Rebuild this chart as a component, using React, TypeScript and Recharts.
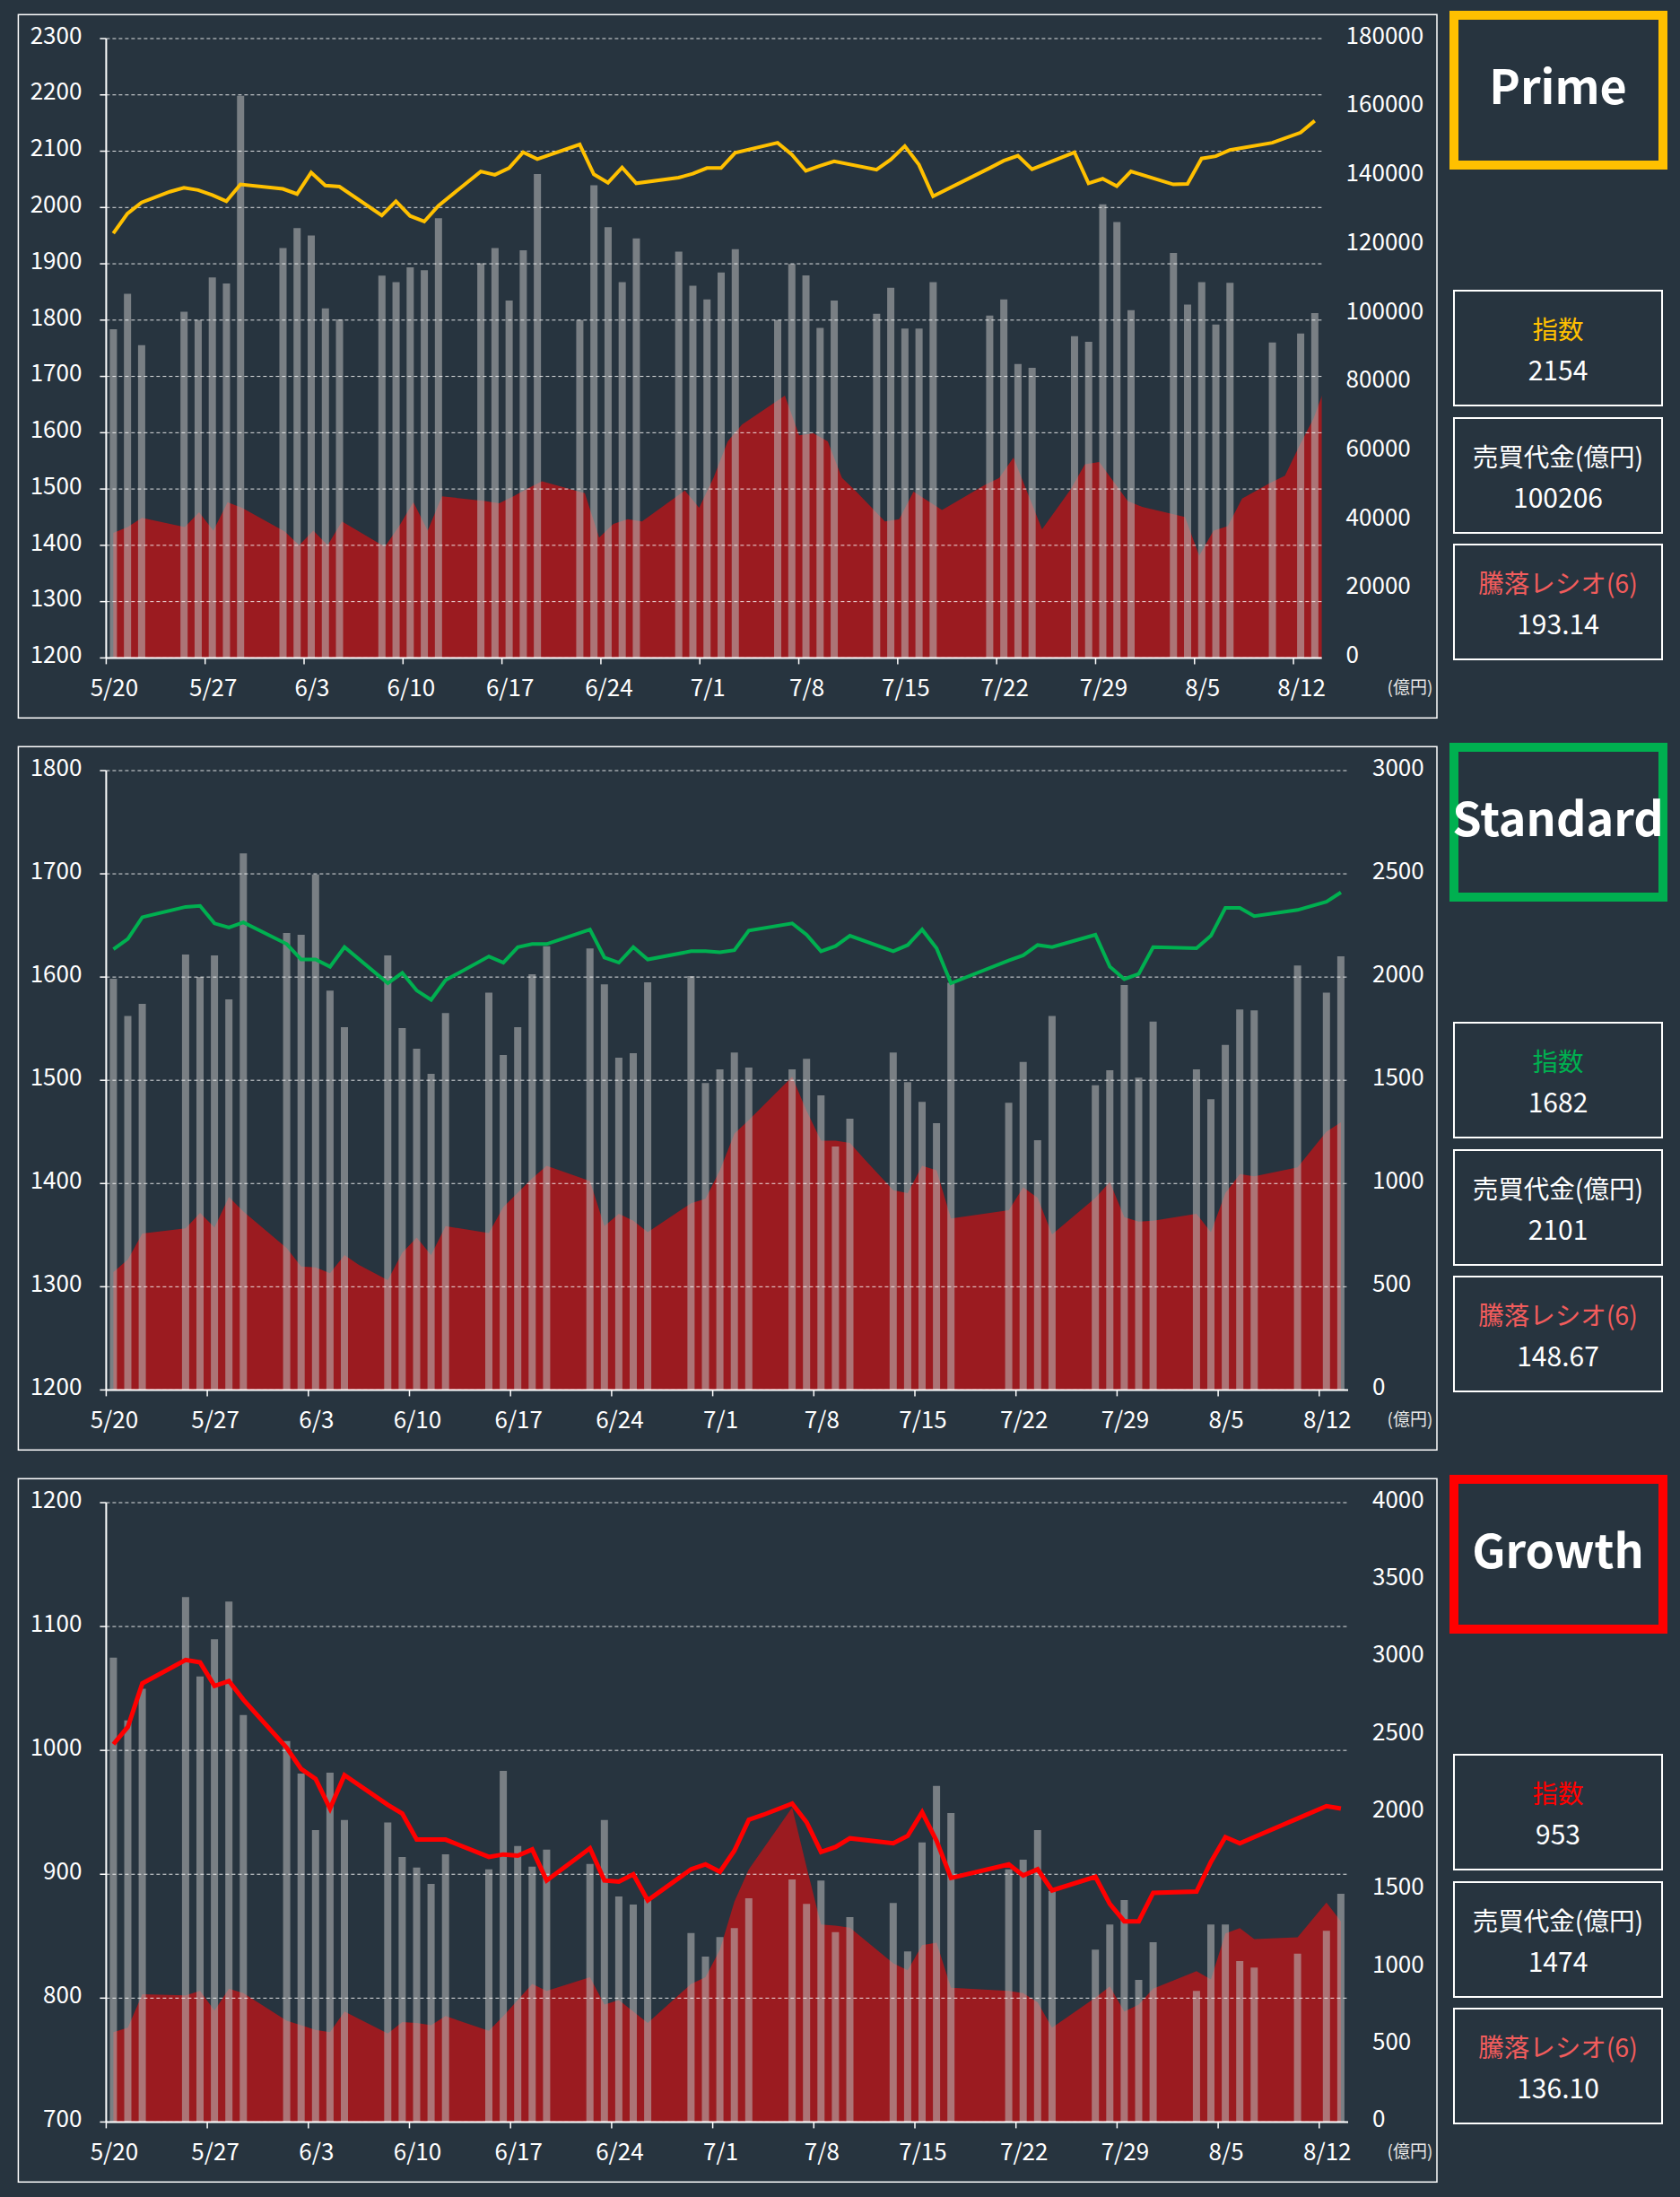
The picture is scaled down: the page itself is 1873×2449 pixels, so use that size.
import React from 'react';
import { ComposedChart, XAxis, YAxis, Bar, Line, Area, ReferenceLine } from 'recharts';

const BG = '#27343f';
const FONT = "'Noto Sans CJK JP', 'Noto Sans', sans-serif";

if (typeof document !== 'undefined') {
  document.body.style.margin = '0';
  document.body.style.background = BG;
}

// ---- x axis (days counted from 5/20) ----
const DATE_TICK_LABELS = ['5/20', '5/27', '6/3', '6/10', '6/17', '6/24', '7/1', '7/8', '7/15', '7/22', '7/29', '8/5', '8/12'];
const DATE_TICK_DAYS = [0, 7, 14, 21, 28, 35, 42, 49, 56, 63, 70, 77, 84];
const DAY_COUNT = 86;

// ---- Prime ----
const PRIME_TURNOVER: [number, number][] = [
  [0, 95500], [1, 105800], [2, 90900], [5, 100600], [6, 98200], [7, 110600], [8, 108800], [9, 163400],
  [12, 119100], [13, 124900], [14, 122800], [15, 101600], [16, 98400],
  [19, 111100], [20, 109200], [21, 113500], [22, 112700], [23, 127800],
  [26, 114700], [27, 119100], [28, 103900], [29, 118500], [30, 140600],
  [33, 98200], [34, 137400], [35, 125200], [36, 109200], [37, 121900],
  [40, 118100], [41, 108200], [42, 104200], [43, 112000], [44, 118800],
  [47, 98200], [48, 114500], [49, 111200], [50, 95900], [51, 103900],
  [54, 100000], [55, 107600], [56, 95700], [57, 95700], [58, 109200],
  [62, 99500], [63, 104200], [64, 85400], [65, 84300],
  [68, 93500], [69, 91900], [70, 131800], [71, 126700], [72, 101100],
  [75, 117700], [76, 102700], [77, 109200], [78, 96900], [79, 109000],
  [82, 91700], [84, 94300], [85, 100206],
];
const PRIME_INDEX: [number, number][] = [
  [0, 1954], [1, 1989], [2, 2009], [4, 2028], [5, 2035], [6, 2031], [7, 2022], [8, 2011], [9, 2041],
  [12, 2033], [13, 2024], [14, 2062], [15, 2039], [16, 2037],
  [19, 1986], [20, 2011], [21, 1985], [22, 1975], [23, 2003],
  [26, 2064], [27, 2058], [28, 2070], [29, 2098], [30, 2086],
  [33, 2112], [34, 2059], [35, 2044], [36, 2071], [37, 2043],
  [40, 2053], [41, 2060], [42, 2070], [43, 2070], [44, 2097],
  [47, 2115], [48, 2094], [49, 2065], [50, 2074], [51, 2082],
  [54, 2067], [55, 2085], [56, 2109], [57, 2076], [58, 2020],
  [62, 2070], [63, 2083], [64, 2092], [65, 2068],
  [68, 2098], [69, 2043], [70, 2051], [71, 2038], [72, 2064],
  [75, 2041], [76, 2042], [77, 2087], [78, 2091], [79, 2102],
  [82, 2115], [84, 2133], [85, 2154],
];
const PRIME_RATIO: [number, number][] = [
  [0, 86.8], [1, 90.9], [2, 97.3], [5, 90.9], [6, 101.1], [7, 88.4], [8, 108.1], [9, 104.2],
  [12, 87.7], [13, 78.2], [14, 88.4], [15, 78.2], [16, 94.7],
  [19, 77.2], [20, 91.5], [21, 108.1], [22, 88.4], [23, 112.2],
  [26, 109], [27, 107.4], [28, 112.2], [29, 117.6], [30, 122.7],
  [33, 114.4], [34, 83.6], [35, 93.1], [36, 96.3], [37, 94.7],
  [40, 116.3], [41, 104.2], [42, 124.9], [43, 150.3], [44, 162.1],
  [47, 182.1], [48, 154.5], [49, 156], [50, 150.3], [51, 124.9], [52, 115.4],
  [54, 94.7], [55, 96.3], [56, 115.4], [58, 102.7],
  [61, 120.1], [62, 124.9], [63, 139.2], [65, 89.3],
  [67, 117], [68, 134.4], [69, 136], [71, 109], [72, 104.9],
  [75, 97.9], [76, 70.9], [77, 88.4], [78, 91.5], [79, 110.6],
  [81, 121.7], [82, 126.5], [83, 147.1], [84, 166.2], [85, 193.14],
];

// ---- Standard ----
const STANDARD_TURNOVER: [number, number][] = [
  [0, 1992], [1, 1812], [2, 1870], [5, 2109], [6, 2001], [7, 2105], [8, 1892], [9, 2599],
  [12, 2213], [13, 2205], [14, 2497], [15, 1934], [16, 1757],
  [19, 2105], [20, 1753], [21, 1653], [22, 1531], [23, 1826],
  [26, 1925], [27, 1622], [28, 1757], [29, 2014], [30, 2149],
  [33, 2138], [34, 1965], [35, 1609], [36, 1631], [37, 1974],
  [40, 2005], [41, 1487], [42, 1553], [43, 1635], [44, 1562],
  [47, 1553], [48, 1604], [49, 1427], [50, 1179], [51, 1314],
  [54, 1635], [55, 1491], [56, 1396], [57, 1292], [58, 1972],
  [62, 1391], [63, 1589], [64, 1210], [65, 1812],
  [68, 1476], [69, 1549], [70, 1961], [71, 1513], [72, 1784],
  [75, 1553], [76, 1409], [77, 1671], [78, 1843], [79, 1839],
  [82, 2056], [84, 1925], [85, 2101],
];
const STANDARD_INDEX: [number, number][] = [
  [0, 1627], [1, 1637], [2, 1658], [5, 1668], [6, 1669], [7, 1652], [8, 1648], [9, 1653],
  [12, 1632], [13, 1617], [14, 1617], [15, 1610], [16, 1629],
  [19, 1594], [20, 1604], [21, 1587], [22, 1578], [23, 1597],
  [26, 1620], [27, 1614], [28, 1629], [29, 1632], [30, 1632],
  [33, 1646], [34, 1619], [35, 1614], [36, 1629], [37, 1617],
  [40, 1625], [41, 1625], [42, 1624], [43, 1626], [44, 1645],
  [47, 1652], [48, 1641], [49, 1625], [50, 1630], [51, 1640],
  [54, 1625], [55, 1631], [56, 1646], [57, 1628], [58, 1594],
  [62, 1616], [63, 1621], [64, 1631], [65, 1629],
  [68, 1641], [69, 1610], [70, 1598], [71, 1603], [72, 1629],
  [75, 1628], [76, 1640], [77, 1667], [78, 1667], [79, 1659],
  [82, 1665], [84, 1673], [85, 1682],
];
const STANDARD_RATIO: [number, number][] = [
  [0, 65.5], [1, 72.4], [2, 86.9], [5, 89.7], [6, 98.3], [7, 90.2], [8, 107.2], [9, 99.1],
  [12, 78.8], [13, 68.6], [14, 68.1], [15, 64.8], [16, 75], [17, 69.4],
  [19, 61], [20, 76.2], [21, 84.6], [22, 75], [23, 91],
  [26, 87.1], [27, 101.6], [29, 117.6], [30, 124.5],
  [33, 116.1], [34, 91], [35, 97.8], [36, 94], [37, 87.7],
  [40, 103.7], [41, 106.2], [42, 122], [43, 142.3], [44, 149.9],
  [47, 174], [48, 155], [49, 138.5], [50, 138.5], [51, 137.2], [52, 128.3],
  [54, 111], [55, 109.3], [56, 124.5], [57, 122], [58, 95.3],
  [62, 99.8], [63, 112.6], [64, 106.7], [65, 86.4],
  [68, 106.7], [69, 115.6], [70, 96], [71, 93.5], [72, 94],
  [75, 97.8], [76, 87.7], [77, 109.3], [78, 119.9], [79, 118.6],
  [82, 123.7], [84, 143.5], [85, 148.67],
];

// ---- Growth ----
const GROWTH_TURNOVER: [number, number][] = [
  [0, 2999], [1, 2594], [2, 2798], [5, 3390], [6, 2878], [7, 3118], [8, 3361], [9, 2629],
  [12, 2461], [13, 2250], [14, 1886], [15, 2256], [16, 1951],
  [19, 1934], [20, 1711], [21, 1643], [22, 1537], [23, 1729],
  [26, 1632], [27, 2268], [28, 1783], [29, 1649], [30, 1759],
  [33, 1667], [34, 1951], [35, 1457], [36, 1404], [37, 1439],
  [40, 1220], [41, 1069], [42, 1195], [43, 1253], [44, 1445],
  [47, 1566], [48, 1409], [49, 1560], [50, 1226], [51, 1324],
  [54, 1415], [55, 1101], [56, 1806], [57, 2170], [58, 1996],
  [62, 1632], [63, 1694], [64, 1886], [65, 1492],
  [68, 1113], [69, 1276], [70, 1433], [71, 918], [72, 1161],
  [75, 847], [76, 1276], [77, 1276], [78, 1039], [79, 998],
  [82, 1087], [84, 1235], [85, 1474],
];
const GROWTH_INDEX: [number, number][] = [
  [0, 1005], [1, 1019], [2, 1054], [5, 1073], [6, 1071], [7, 1052], [8, 1056], [9, 1041],
  [12, 1002], [13, 985], [14, 977], [15, 953], [16, 980],
  [19, 956], [20, 949], [21, 928], [22, 928], [23, 928],
  [26, 914], [27, 916], [28, 915], [29, 920], [30, 895],
  [33, 921], [34, 895], [35, 894], [36, 900], [37, 879],
  [40, 904], [41, 908], [42, 902], [43, 919], [44, 944], [45, 948],
  [47, 957], [48, 942], [49, 918], [50, 922], [51, 929],
  [54, 925], [55, 931], [56, 950], [57, 927], [58, 897],
  [62, 908], [63, 899], [64, 904], [65, 887],
  [68, 898], [69, 876], [70, 862], [71, 862], [72, 885],
  [75, 886], [76, 910], [77, 930], [78, 925], [79, 930],
  [82, 945], [84, 955], [85, 953],
];
const GROWTH_RATIO: [number, number][] = [
  [0, 60.9], [1, 64], [2, 86.7], [5, 85.8], [6, 88.9], [7, 75.5], [8, 90.5], [9, 87.4],
  [12, 68.7], [13, 65.6], [14, 62.5], [15, 60.9], [16, 74.9],
  [19, 60], [20, 67.8], [21, 67.1], [22, 65.6], [23, 71.8],
  [26, 61.9], [27, 71.8], [29, 93.6], [30, 88.9],
  [33, 98.2], [34, 79.6], [35, 82.7], [36, 74.9], [37, 67.1],
  [40, 93.6], [41, 98.2], [42, 116.9], [43, 149.5], [44, 171.3],
  [47, 213.3], [48, 172.9], [49, 134], [50, 133.1], [51, 131.8],
  [54, 107.6], [55, 102.9], [56, 120], [57, 121.6], [58, 91.1],
  [62, 88.9], [63, 87.4], [64, 81.1], [65, 64],
  [68, 84.3], [69, 92], [70, 74.9], [71, 79.6], [72, 90.5],
  [75, 102.3], [76, 96.7], [77, 127.8], [78, 131.5], [79, 124],
  [82, 125.3], [84, 148.9], [85, 136.1],
];

const PRIME_LEFT_TICKS = [1200, 1300, 1400, 1500, 1600, 1700, 1800, 1900, 2000, 2100, 2200, 2300];
const PRIME_RIGHT_TICKS = [0, 20000, 40000, 60000, 80000, 100000, 120000, 140000, 160000, 180000];
const STANDARD_LEFT_TICKS = [1200, 1300, 1400, 1500, 1600, 1700, 1800];
const STANDARD_RIGHT_TICKS = [0, 500, 1000, 1500, 2000, 2500, 3000];
const GROWTH_LEFT_TICKS = [700, 800, 900, 1000, 1100, 1200];
const GROWTH_RIGHT_TICKS = [0, 500, 1000, 1500, 2000, 2500, 3000, 3500, 4000];

const INFO_LABELS = ['指数', '売買代金(億円)', '騰落レシオ(6)'];

type Panel = {
  title: string;
  color: string;
  lineWidth: number;
  turnover: [number, number][];
  index: [number, number][];
  ratio: [number, number][];
  leftTicks: number[];
  rightTicks: number[];
  ratioMax: number;
  ratioDrift: number;
  marginRight: number;
  info: string[];
};

const PANELS: Panel[] = [
  {
    title: 'Prime', color: '#FFC000', lineWidth: 4,
    turnover: PRIME_TURNOVER, index: PRIME_INDEX, ratio: PRIME_RATIO,
    leftTicks: PRIME_LEFT_TICKS, rightTicks: PRIME_RIGHT_TICKS,
    ratioMax: 430, ratioDrift: 0.925, marginRight: 66.4,
    info: ['2154', '100206', '193.14'],
  },
  {
    title: 'Standard', color: '#00B050', lineWidth: 4,
    turnover: STANDARD_TURNOVER, index: STANDARD_INDEX, ratio: STANDARD_RATIO,
    leftTicks: STANDARD_LEFT_TICKS, rightTicks: STANDARD_RIGHT_TICKS,
    ratioMax: 344, ratioDrift: 0, marginRight: 37,
    info: ['1682', '2101', '148.67'],
  },
  {
    title: 'Growth', color: '#FF0000', lineWidth: 5,
    turnover: GROWTH_TURNOVER, index: GROWTH_INDEX, ratio: GROWTH_RATIO,
    leftTicks: GROWTH_LEFT_TICKS, rightTicks: GROWTH_RIGHT_TICKS,
    ratioMax: 420, ratioDrift: 0, marginRight: 37,
    info: ['953', '1474', '136.10'],
  },
];

function buildRows(p: Panel) {
  const rows: any[] = [];
  for (let d = 0; d < DAY_COUNT; d++) rows.push({ day: d, turnover: null, index: null, ratio: null });
  p.turnover.forEach(([d, v]) => { rows[d].turnover = v; });
  p.index.forEach(([d, v]) => { rows[d].index = v; });
  p.ratio.forEach(([d, v]) => { rows[d].ratio = v; });
  return rows;
}

const DateTick = (props: any) => {
  const { x, y, payload } = props;
  const i = DATE_TICK_DAYS.indexOf(payload.value);
  return (
    <text x={x + 9} y={y + 35.8} textAnchor="middle" fill="#ffffff" fontSize={26} fontFamily={FONT}>
      {i >= 0 ? DATE_TICK_LABELS[i] : ''}
    </text>
  );
};
const EmptyTick = () => <g />;
const LeftTick = (props: any) => {
  const { x, y, payload } = props;
  return (
    <text x={x} y={y + 5.7} textAnchor="end" fill="#ffffff" fontSize={26} fontFamily={FONT}>
      {String(payload.value)}
    </text>
  );
};
const RightTick = (props: any) => {
  const { x, y, payload } = props;
  return (
    <text x={x} y={y + 5.7} textAnchor="start" fill="#ffffff" fontSize={26} fontFamily={FONT}>
      {String(payload.value)}
    </text>
  );
};

const PANEL_STEP = 816;
const PANEL_TOP0 = 16;

// axis ids are ordered so that the zero-height axes are stacked first
const X_RATIO = 'x1ratio';
const X_BAR = 'x2bar';
const X_DATE = 'x3date';

function PanelChart({ p, top }: { p: Panel; top: number }) {
  const rows = buildRows(p);
  const leftDomain = [p.leftTicks[0], p.leftTicks[p.leftTicks.length - 1]];
  const rightDomain = [0, p.rightTicks[p.rightTicks.length - 1]];
  const ratioEnd = DAY_COUNT - 0.5 - p.ratioDrift;
  const drift = p.ratioDrift > 0;
  return (
    <div style={{ position: 'absolute', left: 0, top, width: 1600, height: 784 }}>
      <ComposedChart
        width={1600}
        height={784}
        data={rows}
        margin={{ top: 27, right: p.marginRight, bottom: 16.6, left: 58.4 }}
      >
        <XAxis
          xAxisId={X_RATIO} type="number" dataKey="day" domain={[-0.5, ratioEnd]} allowDataOverflow
          hide={!drift} height={0} ticks={DATE_TICK_DAYS.map((t) => t - 0.5)} interval={0}
          tickSize={7} tickMargin={0} axisLine={false}
          tickLine={{ stroke: '#ffffff', strokeWidth: 1.5 }} tick={EmptyTick}
        />
        <XAxis xAxisId={X_BAR} type="number" dataKey="day" domain={[-0.5, DAY_COUNT - 0.5]} hide height={0} />
        <XAxis
          xAxisId={X_DATE} type="number" dataKey="day" domain={[0, DAY_COUNT]}
          ticks={DATE_TICK_DAYS} interval={0} height={50} tickSize={7} tickMargin={0}
          axisLine={{ stroke: '#ffffff', strokeWidth: 2 }}
          tickLine={{ stroke: '#ffffff', strokeWidth: 1.5 }}
          tick={DateTick}
        />
        <YAxis
          yAxisId="left" orientation="left" type="number" domain={leftDomain} ticks={p.leftTicks}
          interval={0} width={60} tickSize={7} tickMargin={20}
          axisLine={{ stroke: '#ffffff', strokeWidth: 2 }}
          tickLine={{ stroke: '#ffffff', strokeWidth: 1.5 }}
          tick={LeftTick}
        />
        <YAxis
          yAxisId="right" orientation="right" type="number" domain={rightDomain} ticks={p.rightTicks}
          interval={0} width={60} tickSize={0} tickMargin={27}
          axisLine={false} tickLine={false} tick={RightTick}
        />
        <YAxis yAxisId="zratio" orientation="right" type="number" domain={[0, p.ratioMax]} hide width={0} />
        <Area
          xAxisId={X_RATIO} yAxisId="zratio" dataKey="ratio" type="linear"
          fill="#9b1b20" fillOpacity={1} stroke="none" connectNulls dot={false} activeDot={false}
          isAnimationActive={false}
        />
        <Bar
          xAxisId={X_BAR} yAxisId="right" dataKey="turnover" fill="#b9b9b9" fillOpacity={0.57}
          barSize={8} isAnimationActive={false}
        />
        {p.leftTicks.map((v) => (
          <ReferenceLine
            key={v} xAxisId={X_DATE} yAxisId="left" y={v}
            stroke="#ffffff" strokeOpacity={0.85} strokeWidth={1} strokeDasharray="4 3"
          />
        ))}
        <Line
          xAxisId={X_BAR} yAxisId="left" dataKey="index" type="linear" stroke={p.color}
          strokeWidth={p.lineWidth} dot={false} activeDot={false} connectNulls
          isAnimationActive={false}
        />
      </ComposedChart>
    </div>
  );
}

function Overlay() {
  return (
    <svg width={1873} height={2449} style={{ position: 'absolute', left: 0, top: 0, pointerEvents: 'none' }}>
      {PANELS.map((p, i) => {
        const T = PANEL_TOP0 + PANEL_STEP * i;
        return (
          <g key={p.title}>
            <rect x={20.4} y={T + 0.3} width={1581.6} height={784} fill="none" stroke="#ffffff" strokeWidth={1.5} />
            <text x={1572} y={T + 757} textAnchor="middle" fill="#e6e6e6" fontSize={19} fontFamily={FONT}>
              (億円)
            </text>
            <rect x={1621} y={T + 1} width={233} height={167} fill="none" stroke={p.color} strokeWidth={10} />
            <text x={1737} y={T + 100.3} textAnchor="middle" fill="#ffffff" fontSize={52} fontWeight="bold" fontFamily={FONT}>
              {p.title}
            </text>
            {INFO_LABELS.map((label, k) => {
              const by = T + [307, 449, 590][k];
              const labelColor = k === 0 ? p.color : k === 1 ? '#ffffff' : '#f25c5c';
              return (
                <g key={label}>
                  <rect x={1621} y={by + 1} width={232} height={128} fill="none" stroke="#ffffff" strokeWidth={2} />
                  <text x={1737} y={by + 55} textAnchor="middle" fill={labelColor} fontSize={28.5} fontFamily={FONT}>
                    {label}
                  </text>
                  <text x={1737} y={by + 101} textAnchor="middle" fill="#ffffff" fontSize={30} fontFamily={FONT}>
                    {p.info[k]}
                  </text>
                </g>
              );
            })}
          </g>
        );
      })}
    </svg>
  );
}

export default function App() {
  return (
    <div style={{ position: 'relative', width: 1873, height: 2449, background: BG, overflow: 'hidden' }}>
      {PANELS.map((p, i) => (
        <PanelChart key={p.title} p={p} top={PANEL_TOP0 + PANEL_STEP * i} />
      ))}
      <Overlay />
    </div>
  );
}
